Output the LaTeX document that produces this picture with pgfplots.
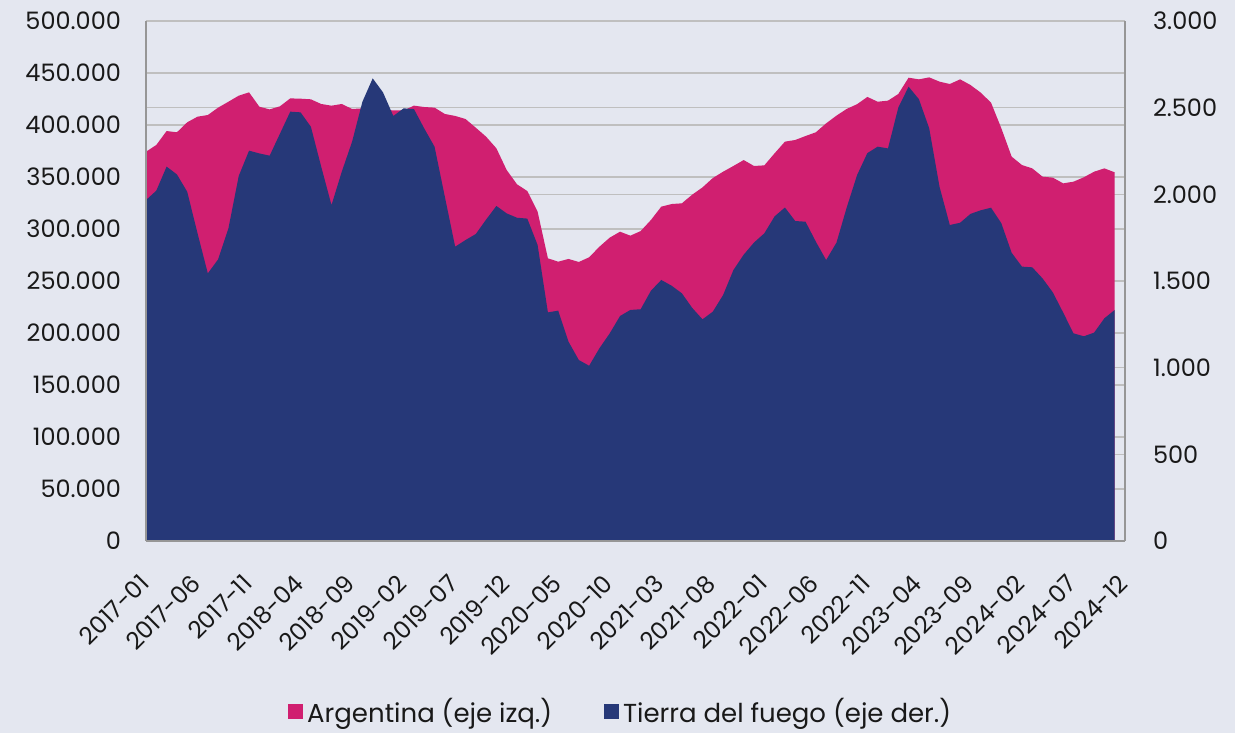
\documentclass[border=0pt]{standalone}
\usepackage{fontspec}
\setmainfont{Poppins}
\usepackage{pgfplots}
\pgfplotsset{compat=1.18}
\usepackage{pgfplotstable}
\definecolor{bgcol}{RGB}{228,231,240}
\definecolor{argmag}{RGB}{208,31,112}
\definecolor{tdfblue}{RGB}{38,56,120}
\definecolor{gridcol}{RGB}{191,191,191}
\definecolor{axcol}{RGB}{150,150,150}
\definecolor{txtcol}{RGB}{25,25,25}

\pgfplotstableread{
i arg tdf
0 374300 1967
1 380800 2021
2 394200 2160
3 393000 2115
4 402600 2015
5 408000 1775
6 409600 1544
7 416700 1625
8 422400 1804
9 428200 2106
10 431400 2252
11 417600 2236
12 415000 2223
13 418000 2350
14 425600 2477
15 425300 2473
16 424700 2390
17 420200 2160
18 418600 1938
19 420200 2131
20 415400 2304
21 416000 2534
22 417000 2669
23 415000 2588
24 414000 2452
25 414000 2496
26 418600 2492
27 417300 2380
28 416700 2275
29 410600 1986
30 408700 1698
31 405800 1736
32 397400 1771
33 388800 1854
34 377600 1933
35 356700 1890
36 343000 1865
37 336500 1860
38 316700 1708
39 271800 1319
40 268600 1329
41 271200 1150
42 268300 1044
43 272800 1011
44 283000 1112
45 291700 1198
46 297400 1298
47 293600 1333
48 298000 1337
49 308700 1444
50 321500 1506
51 324000 1473
52 324700 1429
53 333000 1345
54 340000 1279
55 349000 1323
56 355100 1419
57 360600 1563
58 366300 1652
59 360600 1722
60 361200 1775
61 372800 1873
62 384000 1924
63 385600 1846
64 389400 1842
65 393000 1727
66 401600 1621
67 409000 1721
68 415500 1925
69 420000 2111
70 427000 2238
71 422400 2275
72 423400 2265
73 429800 2500
74 445500 2621
75 443900 2549
76 445800 2381
77 441700 2044
78 439400 1823
79 443900 1836
80 438500 1887
81 431100 1908
82 421500 1923
83 396800 1833
84 369600 1663
85 361500 1583
86 358300 1579
87 350300 1515
88 349400 1434
89 343900 1318
90 345500 1198
91 349700 1181
92 355100 1202
93 358300 1285
94 354500 1333
}\data

\begin{document}
\begin{tikzpicture}
\fill[bgcol] (-73pt,-96pt) rectangle (544.5pt,270.5pt);
\useasboundingbox (-73pt,-96pt) rectangle (544.5pt,270.5pt);
\pgfplotsset{common/.style={at={(0pt,0pt)}, anchor=south west, scale only axis,
  width=489.5pt, height=260pt, xmin=0, xmax=95,
  tick style={draw=none},
  tick label style={font=\fontsize{12}{14}\selectfont, text=txtcol},
  /pgf/number format/assume math mode=true,
  /pgf/number format/fixed,
  /pgf/number format/precision=0,
  /pgf/number format/1000 sep={.}}}

% Left axis: Argentina
\begin{axis}[common,
  ymin=0, ymax=500000,
  axis line style={draw=none},
  ytick={0,50000,100000,150000,200000,250000,300000,350000,400000,450000,500000},
  scaled y ticks=false,
  yticklabel style={xshift=-9pt},
  ymajorgrids,
  major grid style={gridcol, line width=0.75pt},
  extra y ticks={83333.33,166666.67,333333.33,416666.67},
  extra y tick labels={},
  extra y tick style={grid=major, major grid style={gridcol, line width=0.75pt}},
  xtick={0,5,...,95},
  xticklabels={2017-01,2017-06,2017-11,2018-04,2018-09,2019-02,2019-07,2019-12,2020-05,2020-10,2021-03,2021-08,2022-01,2022-06,2022-11,2023-04,2023-09,2024-02,2024-07,2024-12},
  xticklabel style={xshift=-4pt, yshift=-11pt, rotate=45, anchor=north east},
  legend style={at={(0.486,-0.328)}, anchor=center, draw=none, fill=none,
    font=\fontsize{13}{15}\selectfont, text=txtcol,
    /tikz/every even column/.append style={column sep=24pt}},
  legend columns=2,
]
\addplot[fill=argmag, draw=none, forget plot] table[x=i, y=arg]{\data} \closedcycle;
\addlegendimage{legend image code/.code={\fill[argmag] (0pt,-3.5pt) rectangle (7pt,3.5pt);}}
\addlegendentry{Argentina (eje izq.)}
\addlegendimage{legend image code/.code={\fill[tdfblue] (0pt,-3.5pt) rectangle (7pt,3.5pt);}}
\addlegendentry{Tierra del fuego (eje der.)}
\end{axis}

% Right axis: Tierra del Fuego
\begin{axis}[common,
  ymin=0, ymax=3000,
  axis y line*=right, axis x line=none,
  xtick=\empty,
  ytick={0,500,1000,1500,2000,2500,3000},
  yticklabel style={xshift=10.5pt},
  y axis line style={axcol, line width=1pt},
  axis on top,
]
\addplot[fill=tdfblue, draw=none] table[x=i, y=tdf]{\data} \closedcycle;
\end{axis}

% Axis lines on top
\begin{axis}[common,
  ymin=0, ymax=1,
  axis x line*=bottom, axis y line*=left,
  xtick=\empty, ytick=\empty,
  axis line style={axcol, line width=1pt},
]
\end{axis}
\end{tikzpicture}
\end{document}
